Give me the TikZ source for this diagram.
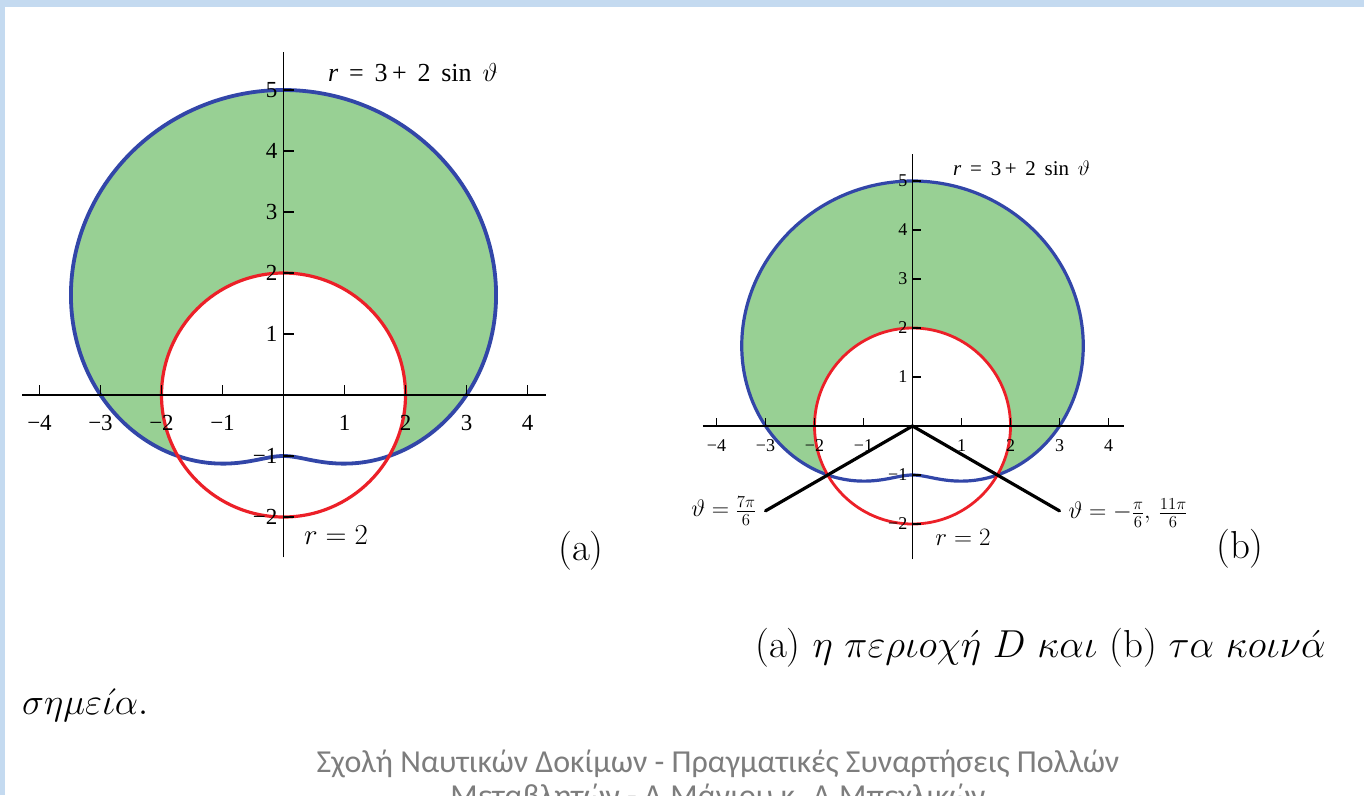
\RequirePackage{fix-cm}
\documentclass[tikz,border=0pt]{standalone}
\usepackage{fontspec}
\newfontfamily\mfont{Liberation Serif}
\newfontfamily\footfont{Carlito}
\definecolor{limblue}{RGB}{50,70,168}
\definecolor{cred}{RGB}{236,32,40}
\definecolor{cgreen}{RGB}{152,208,148}
\definecolor{frameblue}{RGB}{196,218,240}
\definecolor{footgray}{RGB}{125,125,125}
\tikzset{
  axisline/.style={line width=1.6pt, black},
  limacon/.style={draw=limblue, line width=3.8pt},
  circ/.style={draw=cred, line width=3.2pt},
  ray/.style={line width=3.2pt, black, line cap=round},
  ticklabA/.style={font=\mfont\fontsize{23}{23}\selectfont, inner sep=0pt},
  ticklabB/.style={font=\mfont\fontsize{18}{18}\selectfont, inner sep=0pt},
  cmlab/.style={inner sep=0pt},
}
\begin{document}
\begin{tikzpicture}[x=1pt,y=-1pt]
\useasboundingbox (0,0) rectangle (1364,795);
\clip (0,0) rectangle (1364,795);
\fill[frameblue] (0,0) rectangle (1364,795);
\fill[white] (5,7) rectangle (1364,795);

% ---------------- graph (a) ----------------
\begin{scope}[shift={(283.5pt,-395pt)}, x=61pt, y=61pt]
  \fill[cgreen] plot[domain=0:358, samples=180, smooth cycle] (\x:{3+2*sin(\x)});
  \fill[white] (0,0) circle[radius=2];
  \draw[limacon] plot[domain=0:358, samples=180, smooth cycle] (\x:{3+2*sin(\x)});
  \draw[circ] (0,0) circle[radius=2];
  \coordinate (aW) at (-4.28,0); \coordinate (aE) at (4.31,0);
  \coordinate (aS) at (0,-2.66); \coordinate (aN) at (0,5.62);
  \draw[axisline] (aW) -- (aE);
  \draw[axisline] (aS) -- (aN);
  \foreach \k/\t/\n in {-4/−4/m4,-3/−3/m3,-2/−2/m2,-1/−1/m1,1/1/p1,2/2/p2,3/3/p3,4/4/p4}{
    \draw[axisline] (\k,0) -- (\k,0.17);
    \node[ticklabA, anchor=north] (ax\n) at ([yshift=-20pt]\k,0) {\t};
  }
  \foreach \k/\t/\n in {-2/−2/m2,-1/−1/m1,1/1/p1,2/2/p2,3/3/p3,4/4/p4,5/5/p5}{
    \draw[axisline] (0,\k) -- (0.17,\k);
    \node[ticklabA, anchor=east] (ay\n) at ([xshift=-6pt]0,\k) {\t};
  }
\end{scope}
\node[anchor=west, inner sep=0pt, font=\mfont\fontsize{26}{26}\selectfont] (limA) at (328,73)
  {\textit{r}\, =\, 3\,+\, 2\, sin\, $\vartheta$};
\node[cmlab, font=\fontsize{29}{29}\selectfont] (circA) at (336,535) {$r=2$};
\node[cmlab, font=\fontsize{39}{39}\selectfont] (labA) at (581,551) {(a)};

% ---------------- graph (b) ----------------
\begin{scope}[shift={(912.5pt,-426pt)}, x=49pt, y=49pt]
  \fill[cgreen] plot[domain=0:358, samples=180, smooth cycle] (\x:{3+2*sin(\x)});
  \fill[white] (0,0) circle[radius=2];
  \draw[limacon, line width=3.2pt] plot[domain=0:358, samples=180, smooth cycle] (\x:{3+2*sin(\x)});
  \draw[circ, line width=2.8pt] (0,0) circle[radius=2];
  \coordinate (bW) at (-4.28,0); \coordinate (bE) at (4.31,0);
  \coordinate (bS) at (0,-2.72); \coordinate (bN) at (0,5.56);
  \draw[axisline, line width=1.3pt] (bW) -- (bE);
  \draw[axisline, line width=1.3pt] (bS) -- (bN);
  \foreach \k/\t/\n in {-4/−4/m4,-3/−3/m3,-2/−2/m2,-1/−1/m1,1/1/p1,2/2/p2,3/3/p3,4/4/p4}{
    \draw[axisline, line width=1.3pt] (\k,0) -- (\k,0.17);
    \node[ticklabB, anchor=north] (bx\n) at ([yshift=-13pt]\k,0) {\t};
  }
  \foreach \k/\t/\n in {-2/−2/m2,-1/−1/m1,1/1/p1,2/2/p2,3/3/p3,4/4/p4,5/5/p5}{
    \draw[axisline, line width=1.3pt] (0,\k) -- (0.17,\k);
    \node[ticklabB, anchor=east] (by\n) at ([xshift=-5pt]0,\k) {\t};
  }
  \coordinate (O) at (0,0);
  \coordinate (L) at (-3,-1.732);
  \coordinate (R) at (3,-1.732);
  \draw[ray] (O) -- (L);
  \draw[ray] (O) -- (R);
\end{scope}
\node[anchor=west, inner sep=0pt, font=\mfont\fontsize{21}{21}\selectfont] (limB) at (953,168)
  {\textit{r}\, =\, 3\,+\, 2\, sin\, $\vartheta$};
\node[cmlab, font=\fontsize{25}{25}\selectfont] (circB) at (963,537) {$r=2$};
\node[cmlab, font=\fontsize{39}{39}\selectfont] (labB) at (1240,549) {(b)};
\node[cmlab, anchor=east, font=\fontsize{24}{24}\selectfont] (thL) at ([xshift=-9pt]L) {$\vartheta=\frac{7\pi}{6}$};
\node[cmlab, anchor=west, font=\fontsize{24}{24}\selectfont] (thR) at ([xshift=9pt,yshift=-2pt]R) {$\vartheta=-\frac{\pi}{6},\,\frac{11\pi}{6}$};

% ---------------- caption ----------------
\node[anchor=west, inner sep=0pt, font=\fontsize{39}{39}\selectfont] (cap) at (755,648)
  {(a) $\eta$ $\pi\varepsilon\rho\iota o\chi\acute{\eta}$ $D$ $\kappa\alpha\iota$ (b) $\tau\alpha$ $\kappa o\iota\nu\acute{\alpha}$};
\node[anchor=west, inner sep=0pt, font=\fontsize{37}{37}\selectfont] (cap2) at (22,705)
  {$\sigma\eta\mu\varepsilon\acute{\iota}\alpha.$};

% ---------------- footer ----------------
\node[anchor=base, inner sep=0pt, text=footgray, font=\footfont\fontsize{32}{32}\selectfont] (foot1) at (718,772)
  {Σχολή Ναυτικών Δοκίμων - Πραγματικές Συναρτήσεις Πολλών};
\node[anchor=base, inner sep=0pt, text=footgray, font=\footfont\fontsize{32}{32}\selectfont] (foot2) at (718,806)
  {Μεταβλητών - Δ.Μάνιου κ. Δ.Μπεχλικών};
\end{tikzpicture}
\end{document}
